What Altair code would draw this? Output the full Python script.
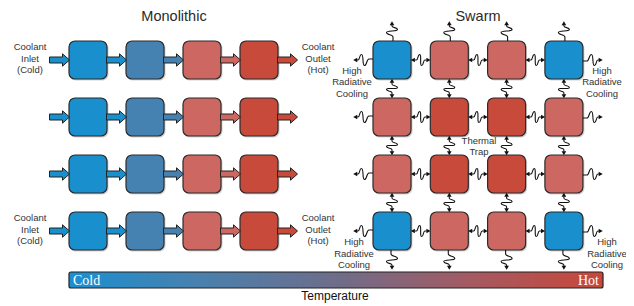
import math
import altair as alt
import pandas as pd

# ---------------- data ----------------
titles = ["Monolithic", "Swarm"]
temp_levels = ["cold", "cool", "warm", "hot"]
temp_colors = ["#1a8fcd", "#4682b1", "#cc6762", "#c74a3a"]
mono_column_temps = ["cold", "cool", "warm", "hot"]          # same in each of 4 rows
mono_arrow_temps = ["cold", "cold", "cool", "warm", "hot"]   # inlet, 3 links, outlet
swarm_grid = [
    ["cold", "warm", "warm", "cold"],
    ["warm", "hot", "hot", "warm"],
    ["warm", "hot", "hot", "warm"],
    ["cold", "warm", "warm", "cold"],
]
inlet_label = "Coolant\nInlet\n(Cold)"
outlet_label = "Coolant\nOutlet\n(Hot)"
cooling_label = "High\nRadiative\nCooling"
trap_label = "Thermal\nTrap"
bar_ends = ["Cold", "Hot"]
bar_title = "Temperature"
gradient_colors = ["#1b8fd0", "#4a80ad", "#6e6d8a", "#a45a62", "#c9473a"]

# ---------------- layout (page pixel space) ----------------
W, H = 618, 298
BOX = 38
MONO_X0, SWARM_X0, ROW_Y0 = 69, 373, 41
PITCH_X_MONO, PITCH_X_SWARM, PITCH_Y = 57, 57.3, 57
LH = 11.5

xs = alt.Scale(domain=[8, 8 + W], nice=False, zero=False)
ys = alt.Scale(domain=[8 + H, 8], nice=False, zero=False)
cs = alt.Scale(domain=temp_levels, range=temp_colors)


def X(f):
    return alt.X(f, type="quantitative", scale=xs, axis=None)


def Y(f):
    return alt.Y(f, type="quantitative", scale=ys, axis=None)


# boxes
boxes = []
for r in range(4):
    for c, t in enumerate(mono_column_temps):
        x0 = MONO_X0 + PITCH_X_MONO * c
        y0 = ROW_Y0 + PITCH_Y * r
        boxes.append(dict(x=x0, x2=x0 + BOX, y=y0, y2=y0 + BOX, temp=t))
    for c, t in enumerate(swarm_grid[r]):
        x0 = SWARM_X0 + PITCH_X_SWARM * c
        y0 = ROW_Y0 + PITCH_Y * r
        boxes.append(dict(x=x0, x2=x0 + BOX, y=y0, y2=y0 + BOX, temp=t))
boxes_df = pd.DataFrame(boxes)
shadow_df = boxes_df.assign(x=boxes_df.x + 1, x2=boxes_df.x2 + 1.5,
                            y=boxes_df.y + 1, y2=boxes_df.y2 + 1.5)

shadow = alt.Chart(shadow_df).mark_rect(cornerRadius=6, fill="#000", opacity=0.18).encode(
    x=X("x"), x2="x2", y=Y("y"), y2="y2")
rects = alt.Chart(boxes_df).mark_rect(cornerRadius=6, stroke="#2b2b2b", strokeWidth=1.2).encode(
    x=X("x"), x2="x2", y=Y("y"), y2="y2",
    fill=alt.Fill("temp:N", scale=cs, legend=None))

# block arrows in the monolithic chains
arrow_path = "M -1 -0.3 L 0.3 -0.3 L 0.3 -0.62 L 1 0 L 0.3 0.62 L 0.3 0.3 L -1 0.3 Z"
arrows = []
for r in range(4):
    for i, t in enumerate(mono_arrow_temps):
        arrows.append(dict(x=MONO_X0 - 9.5 + PITCH_X_MONO * i,
                           y=ROW_Y0 + BOX / 2 + PITCH_Y * r, temp=t))
arrows_df = pd.DataFrame(arrows)
block_arrows = alt.Chart(arrows_df).mark_point(
    shape=arrow_path, filled=True, size=400, stroke="#222", strokeWidth=1,
    opacity=1, fillOpacity=1).encode(
    x=X("x"), y=Y("y"), fill=alt.Fill("temp:N", scale=cs, legend=None))

# wavy heat arrows in the swarm
sq_double = ("M -0.62 0 L -0.42 0 C -0.25 0 -0.3 -0.55 -0.1 -0.55 "
             "C 0.12 -0.55 -0.12 0.55 0.1 0.55 C 0.3 0.55 0.25 0 0.42 0 L 0.62 0")
sq_single = ("M -1 0.1 L -0.6 0.1 C -0.35 0.1 -0.4 -0.55 -0.15 -0.55 "
             "C 0.1 -0.55 -0.1 0.55 0.15 0.55 C 0.38 0.55 0.3 0 0.5 0 L 0.65 0")
singles, doubles, heads = [], [], []
cx = [SWARM_X0 + PITCH_X_SWARM * c + BOX / 2 for c in range(4)]
cy = [ROW_Y0 + PITCH_Y * r + BOX / 2 for r in range(4)]
L = 10


def add_head(x, y, ang):
    a = math.radians(ang)
    heads.append(dict(x=x + 7.8 * math.cos(a), y=y + 7.8 * math.sin(a), ang=ang))


for c in range(4):
    for (x, y, a) in [(cx[c], ROW_Y0 - L, 270), (cx[c], cy[3] + BOX / 2 + L, 90)]:
        singles.append(dict(x=x, y=y, ang=a)); add_head(x, y, a)
for r in range(4):
    for (x, y, a) in [(SWARM_X0 - L, cy[r], 180), (cx[3] + BOX / 2 + L, cy[r], 0)]:
        singles.append(dict(x=x, y=y, ang=a)); add_head(x, y, a)
gap_x = PITCH_X_SWARM - BOX
gap_y = PITCH_Y - BOX
for r in range(4):
    for c in range(3):
        x, y = cx[c] + BOX / 2 + gap_x / 2, cy[r]
        doubles.append(dict(x=x, y=y, ang=0)); add_head(x, y, 0); add_head(x, y, 180)
for r in range(3):
    for c in range(4):
        x, y = cx[c], cy[r] + BOX / 2 + gap_y / 2
        doubles.append(dict(x=x, y=y, ang=90)); add_head(x, y, 90); add_head(x, y, 270)

ang_enc = alt.Angle("ang:Q", scale=None)
wave1 = alt.Chart(pd.DataFrame(singles)).mark_point(
    shape=sq_single, filled=False, size=400, stroke="#111", strokeWidth=1.1, opacity=1).encode(
    x=X("x"), y=Y("y"), angle=ang_enc)
wave2 = alt.Chart(pd.DataFrame(doubles)).mark_point(
    shape=sq_double, filled=False, size=400, stroke="#111", strokeWidth=1.1, opacity=1).encode(
    x=X("x"), y=Y("y"), angle=ang_enc)
tips = alt.Chart(pd.DataFrame(heads)).mark_point(
    shape="triangle-right", filled=True, size=22, color="#111", opacity=1).encode(
    x=X("x"), y=Y("y"), angle=ang_enc)

# labels (y given is the vertical centre of the text block)
labels = []
for r in (0, 3):
    labels.append(dict(t=inlet_label, x=30, y=cy[r] - 1.5))
    labels.append(dict(t=outlet_label, x=318, y=cy[r] - 1.5))
labels += [dict(t=cooling_label, x=352, y=82), dict(t=cooling_label, x=602, y=82),
           dict(t=cooling_label, x=354, y=253.5), dict(t=cooling_label, x=607, y=253.5),
           dict(t=trap_label, x=479, y=146.5)]
lab_df = pd.DataFrame(labels)
lab_df["y"] = [row.y - LH * (row.t.count("\n")) / 2 for row in lab_df.itertuples()]
label_txt = alt.Chart(lab_df).mark_text(
    font="Liberation Sans", fontSize=9.5, color="#333", lineBreak="\n", lineHeight=LH,
    align="center", baseline="middle").encode(x=X("x"), y=Y("y"), text="t:N")

title_df = pd.DataFrame(dict(t=titles, x=[174, 478], y=[16.5, 16.5]))
title_txt = alt.Chart(title_df).mark_text(
    font="Liberation Sans", fontSize=14.5, color="#2a2a2a", baseline="middle").encode(
    x=X("x"), y=Y("y"), text="t:N")

# colour bar
bar_df = pd.DataFrame([dict(x=69, x2=603, y=272, y2=288)])
grad = alt.Gradient(gradient="linear", x1=0, x2=1, y1=0, y2=0,
                    stops=[alt.GradientStop(color=col, offset=i / (len(gradient_colors) - 1))
                           for i, col in enumerate(gradient_colors)])
bar = alt.Chart(bar_df).mark_rect(fill=grad, stroke="#222", strokeWidth=1.2, cornerRadius=2).encode(
    x=X("x"), x2="x2", y=Y("y"), y2="y2")
ends_df = pd.DataFrame(dict(t=bar_ends, x=[73, 599], y=[280.5, 280.5]))
end_left = alt.Chart(ends_df.iloc[[0]]).mark_text(
    font="Liberation Serif", fontSize=14, color="white", align="left", baseline="middle").encode(
    x=X("x"), y=Y("y"), text="t:N")
end_right = alt.Chart(ends_df.iloc[[1]]).mark_text(
    font="Liberation Serif", fontSize=14, color="white", align="right", baseline="middle").encode(
    x=X("x"), y=Y("y"), text="t:N")
bt_df = pd.DataFrame([dict(t=bar_title, x=335, y=296)])
bar_txt = alt.Chart(bt_df).mark_text(
    font="Liberation Sans", fontSize=12, color="#111", baseline="middle").encode(
    x=X("x"), y=Y("y"), text="t:N")

chart = alt.layer(
    shadow, rects, block_arrows, wave1, wave2, tips, label_txt, title_txt,
    bar, end_left, end_right, bar_txt
).properties(
    width=W, height=H, autosize=alt.AutoSizeParams(type="none"), padding=0
).configure_view(stroke=None)

chart.save("out.html", embed_options={"renderer": "svg", "actions": False})
